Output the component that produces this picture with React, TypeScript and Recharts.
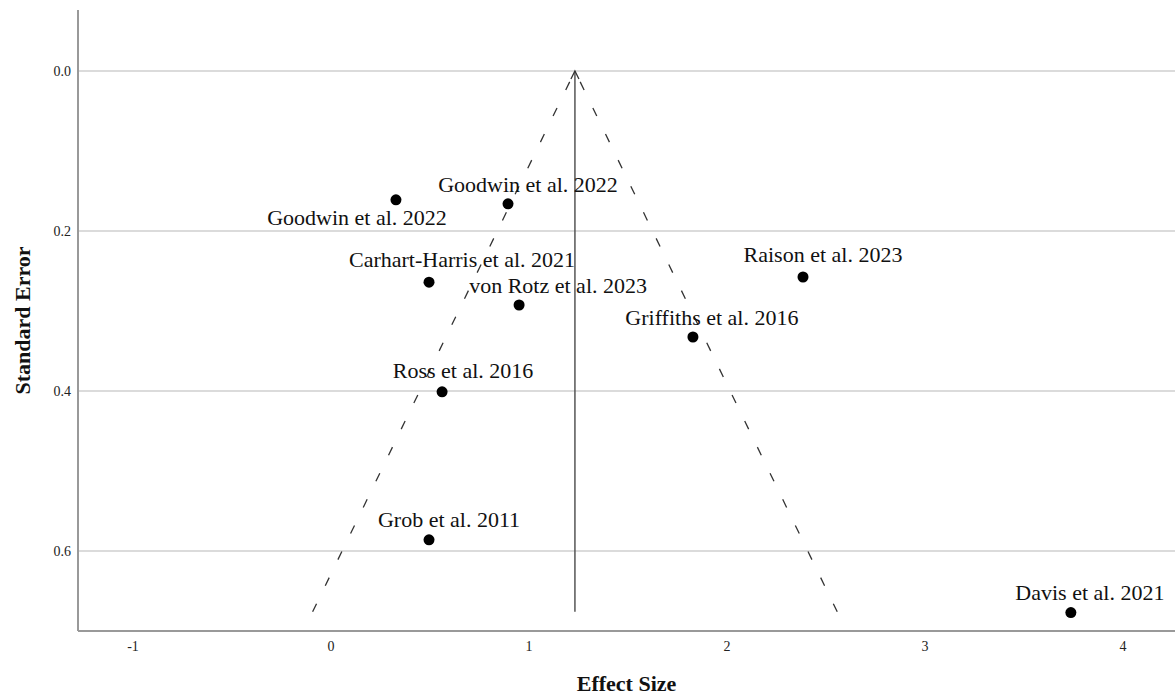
import {
  ScatterChart,
  Scatter,
  XAxis,
  YAxis,
  ReferenceLine,
} from "recharts";

const STUDIES = [
  "Goodwin et al. 2022",
  "Goodwin et al. 2022",
  "Carhart-Harris et al. 2021",
  "von Rotz et al. 2023",
  "Raison et al. 2023",
  "Griffiths et al. 2016",
  "Ross et al. 2016",
  "Grob et al. 2011",
  "Davis et al. 2021",
];
const EFFECT_SIZES = [0.328, 0.894, 0.495, 0.95, 2.384, 1.828, 0.561, 0.495, 3.737];
const STANDARD_ERRORS = [0.161, 0.166, 0.264, 0.2925, 0.2575, 0.3325, 0.401, 0.586, 0.677];

const X_TICKS = [-1, 0, 1, 2, 3, 4];
const Y_TICKS = [0, 0.2, 0.4, 0.6];

// pooled estimate and funnel depth
const POOLED = 1.232;
const SE_MAX = 0.676;

// label placement relative to each dot (center dx, baseline dy)
const LABEL_OFFSETS = [
  [-39, 25],
  [20, -12],
  [33, -15],
  [39, -12],
  [20, -15],
  [19, -12],
  [21, -14],
  [20, -13],
  [19, -13],
];

const FONT = "'Liberation Serif', 'Times New Roman', serif";

const data = STUDIES.map((name, i) => ({
  name,
  x: EFFECT_SIZES[i],
  y: STANDARD_ERRORS[i],
  idx: i,
}));

function StudyDot(props: any) {
  const { cx, cy, payload } = props;
  const [dx, dy] = LABEL_OFFSETS[payload.idx];
  return (
    <g>
      <circle cx={cx} cy={cy} r={5.5} fill="#000" />
      <text
        x={cx + dx}
        y={cy + dy}
        textAnchor="middle"
        fontFamily={FONT}
        fontSize={22}
        fill="#111"
      >
        {payload.name}
      </text>
    </g>
  );
}

function ArrowLine(props: any) {
  const { x1, y1, x2, y2 } = props;
  const top = Math.min(y1, y2);
  const bottom = Math.max(y1, y2);
  return (
    <g>
      <line x1={x1} y1={bottom} x2={x2} y2={top} stroke="#555" strokeWidth={1.5} />
      <polyline
        points={`${x2 - 4},${top + 8} ${x2},${top} ${x2 + 4},${top + 8}`}
        fill="none"
        stroke="#333"
        strokeWidth={1.3}
      />
    </g>
  );
}

export default function App() {
  return (
    <div
      style={{
        position: "absolute",
        left: 0,
        top: 0,
        width: 1175,
        height: 697,
        background: "#fff",
      }}
    >
      <ScatterChart
        width={1175}
        height={697}
        margin={{ top: 10, right: 0, bottom: 0, left: 0 }}
      >
        {Y_TICKS.map((t) => (
          <ReferenceLine key={t} y={t} stroke="#cfcfcf" strokeWidth={1.5} />
        ))}
        <XAxis
          type="number"
          dataKey="x"
          domain={[-1.278, 4.263]}
          ticks={X_TICKS}
          allowDataOverflow
          height={66}
          tickLine={false}
          tickMargin={4}
          axisLine={{ stroke: "#999", strokeWidth: 2 }}
          tick={{ fill: "#222", fontSize: 14, fontFamily: FONT }}
          label={{
            value: "Effect Size",
            position: "insideBottom",
            offset: 6,
            style: {
              fontFamily: FONT,
              fontWeight: "bold",
              fontSize: 22,
              fill: "#111",
            },
          }}
        />
        <YAxis
          type="number"
          dataKey="y"
          domain={[-0.07625, 0.7]}
          reversed
          ticks={Y_TICKS}
          allowDataOverflow
          width={78}
          tickLine={false}
          tickMargin={1}
          tickFormatter={(v: number) => v.toFixed(1)}
          axisLine={{ stroke: "#999", strokeWidth: 2 }}
          tick={{ fill: "#222", fontSize: 14, fontFamily: FONT }}
          label={{
            value: "Standard Error",
            angle: -90,
            position: "insideLeft",
            offset: 22,
            style: {
              textAnchor: "middle",
              fontFamily: FONT,
              fontWeight: "bold",
              fontSize: 22,
              fill: "#111",
            },
          }}
        />
        <ReferenceLine
          segment={[
            { x: POOLED - 1.96 * SE_MAX, y: SE_MAX },
            { x: POOLED, y: 0 },
          ]}
          stroke="#333"
          strokeWidth={1.3}
          strokeDasharray="9 20"
        />
        <ReferenceLine
          segment={[
            { x: POOLED + 1.96 * SE_MAX, y: SE_MAX },
            { x: POOLED, y: 0 },
          ]}
          stroke="#333"
          strokeWidth={1.3}
          strokeDasharray="9 20"
        />
        <ReferenceLine
          segment={[
            { x: POOLED, y: SE_MAX },
            { x: POOLED, y: 0 },
          ]}
          shape={ArrowLine}
        />
        <Scatter data={data} shape={StudyDot} isAnimationActive={false} />
      </ScatterChart>
    </div>
  );
}
